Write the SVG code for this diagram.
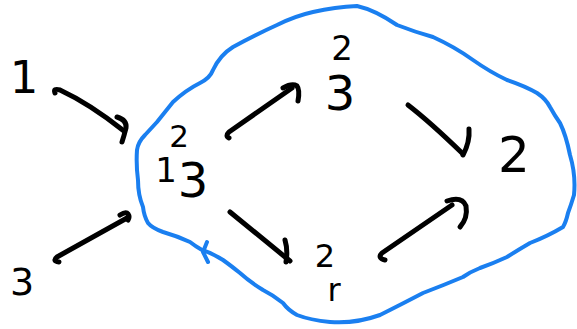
<svg xmlns="http://www.w3.org/2000/svg" width="577" height="329" viewBox="0 0 577 329">
<style>
.ink{fill:none;stroke:#000;stroke-width:5;stroke-linecap:round;stroke-linejoin:round}
.hand{font-family:"DejaVu Sans","Liberation Sans",sans-serif;fill:#000;text-anchor:middle}
.blob{fill:none;stroke:#1a7ff0;stroke-width:4;stroke-linecap:round;stroke-linejoin:round}
</style>
<rect width="577" height="329" fill="#fff"/>
<g id="region">
<path class="blob" d="M137,150 Q138,142 145,135 L157,122 L173,102 Q186,90 200,83 Q210,78 213,70 Q220,55 233,47 Q255,35 277,25 Q295,16 313,12 Q335,7 357,6 Q375,10 397,25 Q415,32 433,37 Q455,47 473,60 Q490,72 507,80 Q525,86 537,93 Q546,99 550,107 Q555,116 560,123 Q566,135 570,155 Q576,175 574,195 Q571,205 568,213 Q566,222 563,227 Q548,236 530,243 Q518,250 507,257 Q494,263 480,268 Q470,272 463,277 Q444,285 423,293 Q400,305 380,315 Q355,324 330,322 Q310,320 297,315 Q288,310 283,303 Q273,295 263,290 Q250,282 240,273 Q230,265 223,260 Q212,253 202,250 Q195,246 190,242 Q177,236 163,232 Q152,228 148,223 Q144,216 143,207 Q138,195 138,180 Q136,165 137,150 Z"/>
<path class="blob" d="M207,242 L203,252 L208,262"/>
</g>
<g id="connectors">
<path class="ink" d="M55,93 Q53,88 60,90 Q90,104 124,131"/>
<path class="ink" d="M117,117 Q127,120 126,128 Q124,136 122,142"/>
<path class="ink" d="M59,262 Q52,261 57,257 L127,218"/>
<path class="ink" d="M120,215 Q126,211 128,214 Q130,217 128,220"/>
<path class="ink" d="M229,138 Q225,136 229,132 L292,88"/>
<path class="ink" d="M283,88 Q292,83 297,86 Q300,90 298,101"/>
<path class="ink" d="M230,212 L290,261"/>
<path class="ink" d="M285,240 Q288,250 286,262"/>
<path class="ink" d="M408,105 Q430,122 462,153"/>
<path class="ink" d="M469,129 Q470,142 463,155"/>
<path class="ink" d="M385,260 Q377,258 382,253 L452,205"/>
<path class="ink" d="M447,201 Q462,196 466,206 Q468,218 460,227"/>
</g>
<g id="n1"><text class="hand" x="24" y="93" font-size="45">1</text></g>
<g id="n3"><text class="hand" x="22" y="295" font-size="38">3</text></g>
<g id="nA">
<text class="hand" x="179" y="147" font-size="31">2</text>
<text class="hand" x="166" y="182" font-size="34">1</text>
<text class="hand" x="193" y="197" font-size="48">3</text>
</g>
<g id="nTop">
<text class="hand" x="342" y="60" font-size="34">2</text>
<text class="hand" x="340" y="110" font-size="48">3</text>
</g>
<g id="nRight"><text class="hand" x="514" y="172" font-size="50">2</text></g>
<g id="nBottom">
<text class="hand" x="325" y="267" font-size="32">2</text>
<text class="hand" x="334" y="301" font-size="32">r</text>
</g>
</svg>
